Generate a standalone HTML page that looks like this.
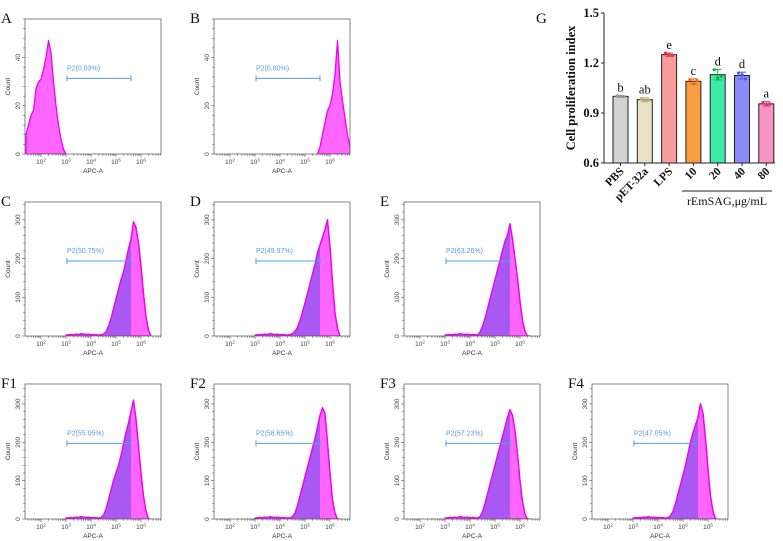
<!DOCTYPE html>
<html><head><meta charset="utf-8"><style>
html,body{margin:0;padding:0;background:#fff;}
svg{display:block;}
</style></head><body>
<svg id="fig" width="783" height="541" viewBox="0 0 783 541" xmlns="http://www.w3.org/2000/svg"></svg>
<script>
// ---------- Flow histogram data ----------
const logsAB_A = [1.4,1.5,1.6,1.7,1.8,1.9,2.0,2.1,2.2,2.3,2.4,2.5,2.6,2.7,2.8,2.9,3.0];
const countsA  = [8,12,16,18,27,30,31,35,40,47,42,30,20,12,6,2,0];
const logsB    = [5.5,5.6,5.7,5.8,5.9,6.0,6.1,6.2,6.3,6.4,6.5,6.6,6.7,6.8];
const countsB  = [0,3,8,13,18,20,25,33,47,30,22,15,8,3];
const logsMain = [3.0,3.1,3.2,3.3,3.4,3.5,3.6,3.7,3.8,3.9,4.0,4.1,4.2,4.3,4.4,4.5,4.6,4.7,4.8,4.9,5.0,5.1,5.2,5.3,5.4,5.5,5.6,5.7,5.8,5.9,6.0,6.1,6.2,6.3,6.4];
const tailC = [2,3,4,3,5,4,6,5,4,5,3,4,3,2];
const countsC  = tailC.concat([3,5,10,25,45,70,95,120,145,165,195,225,250,295,280,240,180,110,50,15,0]);
const countsD  = tailC.concat([4,6,12,22,40,62,85,110,135,160,185,215,235,255,275,300,230,140,60,20,0]);
const countsE  = tailC.concat([10,25,45,70,95,120,145,170,195,220,245,260,290,250,200,150,90,40,12,0,0]);
const countsF1 = tailC.concat([4,10,25,50,75,100,120,140,165,195,225,250,280,310,260,190,120,60,20,0,0]);
const countsF2 = tailC.concat([3,6,15,35,60,85,110,135,160,185,210,240,270,290,275,200,120,50,15,0,0]);
const countsF3 = tailC.concat([6,18,40,65,90,115,140,165,190,215,240,265,285,270,230,170,100,45,12,0,0]);
const countsF4 = tailC.concat([3,8,20,40,65,90,115,140,170,200,225,245,265,300,275,210,130,60,20,0,0]);
const gateLabels = ["P2(0.03%)","P2(0.80%)","P2(50.75%)","P2(49.97%)","P2(63.26%)","P2(55.05%)","P2(58.65%)","P2(57.23%)","P2(47.05%)"];
const panelLetters = ["A","B","C","D","E","F1","F2","F3","F4"];
const gateStart = 3.04, gateEnd = 5.6;

// ---------- Bar chart data ----------
const barCats = ["PBS","pET-32a","LPS","10","20","40","80"];
const barMeans = [1.0,0.98,1.25,1.09,1.13,1.125,0.955];
const barErr = [0.006,0.012,0.01,0.015,0.032,0.02,0.013];
const barPts1 = [1.003,0.985,1.26,1.10,1.16,1.14,0.962];
const barPts2 = [1.0,0.975,1.25,1.075,1.11,1.13,0.948];
const barPts3 = [0.998,0.978,1.245,1.095,1.12,1.105,0.955];
const barSig = ["b","ab","e","c","d","d","a"];
const yTicksG = [0.6,0.9,1.2,1.5];

const NS="http://www.w3.org/2000/svg";
const svg=document.getElementById('fig');
function mk(tag,attrs,parent){const e=document.createElementNS(NS,tag);for(const k in attrs)e.setAttribute(k,attrs[k]);(parent||svg).appendChild(e);return e;}

const cols=[25,214,404,592];
const rowsY=[{top:19,bot:154,max:56,ticks:[0,20,40]},{top:202,bot:336,max:346,ticks:[0,100,200,300]},{top:384,bot:519,max:352,ticks:[0,100,200,300]}];
const panels=[
 {c:0,r:0,logs:logsAB_A,counts:countsA,purple:false},
 {c:1,r:0,logs:logsB,counts:countsB,purple:false},
 {c:0,r:1,logs:logsMain,counts:countsC,purple:true},
 {c:1,r:1,logs:logsMain,counts:countsD,purple:true},
 {c:2,r:1,logs:logsMain,counts:countsE,purple:true},
 {c:0,r:2,logs:logsMain,counts:countsF1,purple:true},
 {c:1,r:2,logs:logsMain,counts:countsF2,purple:true},
 {c:2,r:2,logs:logsMain,counts:countsF3,purple:true},
 {c:3,r:2,logs:logsMain,counts:countsF4,purple:true}
];
const W=136, logMin=1.36, logMax=6.8;
const defs=mk('defs',{});
panels.forEach((p,i)=>{
  const L=cols[p.c], R=rowsY[p.r];
  const g=mk('g',{});
  
  
  const sx=v=>L+(v-logMin)/(logMax-logMin)*W;
  const sy=v=>R.bot-v/R.max*(R.bot-R.top);
  const lt=mk('text',{x:L-24,y:R.top+4,'font-family':'Liberation Serif, serif','font-size':15,fill:'#111'},g);
  lt.textContent=panelLetters[i];
  
  
  let d='M'+sx(p.logs[0])+','+R.bot;
  p.logs.forEach((lv,k)=>{d+=' L'+sx(lv).toFixed(1)+','+sy(p.counts[k]).toFixed(1);});
  d+=' L'+sx(p.logs[p.logs.length-1])+','+R.bot+' Z';
  const cid='clip'+i;
  const cp=mk('clipPath',{id:cid},defs);
  mk('rect',{x:L,y:R.top,width:W,height:R.bot-R.top},cp);
  const h=mk('path',{d:d,fill:'#ff66ff',stroke:'#f000f0','stroke-width':1.3,'stroke-linejoin':'round','clip-path':'url(#'+cid+')'},g);
  
  
  if(p.purple){
    const pc=mk('clipPath',{id:'pc'+i},defs);
    mk('rect',{x:L,y:R.top,width:sx(gateEnd)-L,height:R.bot-R.top},pc);
    const pp=mk('path',{d:d,fill:'#a958f2','clip-path':'url(#pc'+i+')'},g);
    
    
    const pe=mk('path',{d:d,fill:'none',stroke:'#f000f0','stroke-width':1.3,'stroke-linejoin':'round','clip-path':'url(#'+cid+')'},g);
  }
  mk('rect',{x:L,y:R.top,width:W,height:R.bot-R.top,fill:'none',stroke:'#666','stroke-width':0.8},g);
  for(let dec=1;dec<=6;dec++){
    for(let m=1;m<10;m++){
      const lv=dec+Math.log10(m);
      if(lv<logMin||lv>logMax)continue;
      const x=sx(lv);
      mk('line',{x1:x,x2:x,y1:R.bot,y2:R.bot+(m===1?3:1.8),stroke:'#555','stroke-width':0.6},g);
    }
  }
  for(let dec=2;dec<=6;dec++){
    const t=mk('text',{x:sx(dec),y:R.bot+10,'font-family':'Liberation Sans, sans-serif','font-size':6.5,fill:'#444','text-anchor':'middle'},g);
    t.innerHTML='10<tspan dy="-2.5" font-size="4.5">'+dec+'</tspan>';
  }
  const xl=mk('text',{x:L+W/2,y:R.bot+19,'font-family':'Liberation Sans, sans-serif','font-size':6.5,fill:'#333','text-anchor':'middle'},g);
  xl.textContent='APC-A';
  
  
  const step=R.ticks[1]/5;
  for(let v=0;v<=R.max;v+=step){
    const y=sy(v);
    mk('line',{x1:L,x2:L-(Math.abs(v%R.ticks[1])<1e-6?3:1.8),y1:y,y2:y,stroke:'#555','stroke-width':0.6},g);
  }
  R.ticks.forEach(v=>{
    const y=sy(v);
    const t=mk('text',{x:L-5,y:y,'font-family':'Liberation Sans, sans-serif','font-size':6.5,fill:'#444','text-anchor':'middle',transform:'rotate(-90 '+(L-5)+' '+y+')'},g);
    t.textContent=v;
  });
  const yc=(R.top+R.bot)/2;
  const yl=mk('text',{x:L-15,y:yc,'font-family':'Liberation Sans, sans-serif','font-size':6.5,fill:'#333','text-anchor':'middle',transform:'rotate(-90 '+(L-15)+' '+yc+')'},g);
  yl.textContent='Count';
  
  
  const gy = R.top + (R.bot-R.top)*0.44;
  const gx1=sx(gateStart), gx2=p.c===3?sx(gateEnd)-2:sx(gateEnd);
  const gg=mk('g',{stroke:'#5a9ae8','stroke-width':1},g);
  
  
  mk('line',{x1:gx1,x2:gx2,y1:gy,y2:gy},gg);
  mk('line',{x1:gx1,x2:gx1,y1:gy-3,y2:gy+3},gg);
  mk('line',{x1:gx2,x2:gx2,y1:gy-3,y2:gy+3},gg);
  const gl=mk('text',{x:gx1,y:gy-8,'font-family':'Liberation Sans, sans-serif','font-size':7,fill:'#5a9ae8'},g);
  gl.textContent=gateLabels[i];
  
  
});

// ---------- Bar chart G ----------
const gx0=604, gy0=163, gyTop=13, gxEnd=775;
const yG=v=>gy0-(v-0.6)/0.9*(gy0-gyTop);
const xG=i=>620.5+i*24.3;
const barFill=['#d3d3d3','#e9e2c4','#f99c9c','#fa9c42','#3feaa8','#8a8cf8','#f895c4'];
const dotCol=['#9a9a9a','#bba873','#e83a4a','#e86a10','#12b040','#4a5ae8','#e8307a'];
const G=mk('g',{});


const gL=mk('text',{x:536,y:23,'font-family':'Liberation Serif, serif','font-size':15,fill:'#111'},G);
gL.textContent='G';
barMeans.forEach((v,i)=>{
  const x=xG(i);
  const b=mk('rect',{x:x-7.5,y:yG(v),width:15,height:gy0-yG(v),fill:barFill[i],stroke:'#222','stroke-width':1},G);
  
  
  const eT=yG(v+barErr[i]), eB=yG(v-barErr[i]);
  mk('line',{x1:x,x2:x,y1:eT,y2:eB,stroke:dotCol[i],'stroke-width':1},G);
  mk('line',{x1:x-4,x2:x+4,y1:eT,y2:eT,stroke:dotCol[i],'stroke-width':1},G);
  mk('line',{x1:x-4,x2:x+4,y1:eB,y2:eB,stroke:dotCol[i],'stroke-width':1},G);
  [barPts1[i],barPts2[i],barPts3[i]].forEach((pv,k)=>{
    mk('circle',{cx:x+(k-1)*3.5,cy:yG(pv),r:1.6,fill:dotCol[i]},G);
  });
  const s=mk('text',{x:x,y:yG(v+barErr[i])-4,'font-family':'Liberation Serif, serif','font-size':12.5,fill:'#111','text-anchor':'middle'},G);
  s.textContent=barSig[i];
  
  
  const c=mk('text',{x:x+4,y:gy0+9,'font-family':'Liberation Serif, serif','font-size':11.5,'font-weight':'bold',fill:'#111','text-anchor':'end',transform:'rotate(-45 '+(x+4)+' '+(gy0+9)+')'},G);
  c.textContent=barCats[i];
  
  
});
mk('line',{x1:gx0,x2:gx0,y1:gyTop,y2:gy0,stroke:'#222','stroke-width':1},G);
mk('line',{x1:gx0,x2:gxEnd,y1:gy0,y2:gy0,stroke:'#222','stroke-width':1},G);
barMeans.forEach((v,i)=>{mk('line',{x1:xG(i),x2:xG(i),y1:gy0,y2:gy0+3,stroke:'#222','stroke-width':1},G);});
yTicksG.forEach(v=>{
  mk('line',{x1:gx0-3,x2:gx0,y1:yG(v),y2:yG(v),stroke:'#222','stroke-width':1},G);
  const t=mk('text',{x:gx0-5,y:yG(v)+4,'font-family':'Liberation Serif, serif','font-size':12.5,'font-weight':'bold',fill:'#111','text-anchor':'end'},G);
  t.textContent=v.toFixed(1);
});
const yt=mk('text',{x:575,y:88,'font-family':'Liberation Serif, serif','font-size':12.5,'font-weight':'bold',fill:'#111','text-anchor':'middle',transform:'rotate(-90 575 88)'},G);
yt.textContent='Cell proliferation index';


mk('line',{x1:682,x2:772,y1:191,y2:191,stroke:'#222','stroke-width':1},G);
const gt=mk('text',{x:727,y:205,'font-family':'Liberation Serif, serif','font-size':12,fill:'#111','text-anchor':'middle'},G);
gt.textContent='rEmSAG,μg/mL';


</script>
</body></html>
